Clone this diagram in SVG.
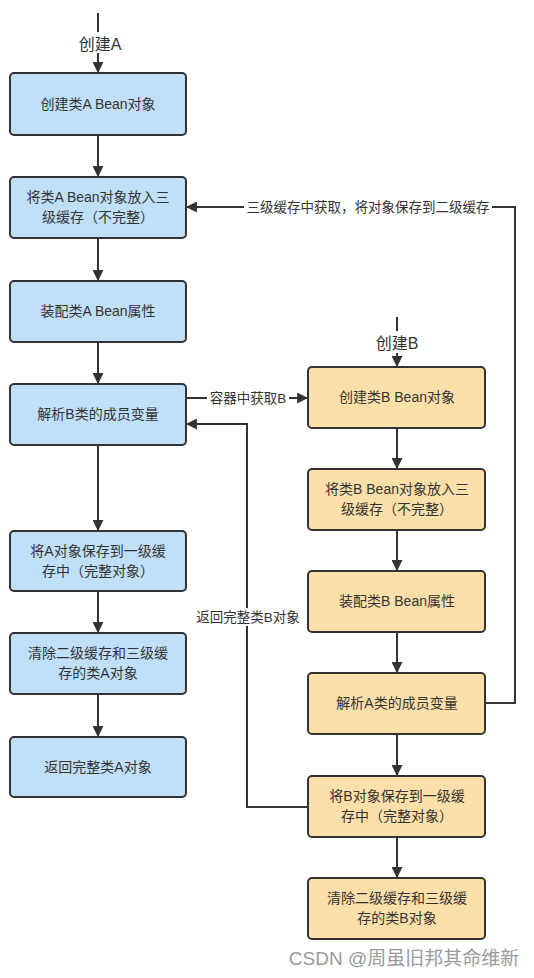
<svg xmlns="http://www.w3.org/2000/svg" width="534" height="978" viewBox="0 0 534 978">
<style>
.a{fill:#bfe0f8;stroke:#333;stroke-width:2}
.b{fill:#fddfa9;stroke:#333;stroke-width:2}
text{font-family:"Liberation Sans","Noto Sans CJK SC",sans-serif;font-size:14px;fill:#333;text-anchor:middle}
.t{font-size:13.5px}
.s{font-size:16px}
.c{fill:none;stroke:#333;stroke-width:2}
.l{fill:#fff}
</style>
<defs>
<marker id="m" viewBox="0 0 10 10" refX="9" refY="5" markerWidth="5.5" markerHeight="5.5" orient="auto" markerUnits="strokeWidth">
<path d="M0,0L10,5L0,10z" fill="#333"/>
</marker>
</defs>
<rect width="534" height="978" fill="#fff"/>
<g id="connectors">
<path class="c" d="M98,13V32"/>
<path class="c" d="M98,53V72" marker-end="url(#m)"/>
<path class="c" d="M98,136V176" marker-end="url(#m)"/>
<path class="c" d="M98,239V280" marker-end="url(#m)"/>
<path class="c" d="M98,343V383" marker-end="url(#m)"/>
<path class="c" d="M98,446V530" marker-end="url(#m)"/>
<path class="c" d="M98,592V632" marker-end="url(#m)"/>
<path class="c" d="M98,695V736" marker-end="url(#m)"/>
<path class="c" d="M397,317V331"/>
<path class="c" d="M397,353V366" marker-end="url(#m)"/>
<path class="c" d="M397,429V468" marker-end="url(#m)"/>
<path class="c" d="M397,531V570" marker-end="url(#m)"/>
<path class="c" d="M397,633V672" marker-end="url(#m)"/>
<path class="c" d="M397,735V775" marker-end="url(#m)"/>
<path class="c" d="M397,838V877" marker-end="url(#m)"/>
<path class="c" d="M486,703H515V207H187" marker-end="url(#m)"/>
<path class="c" d="M187,398H307" marker-end="url(#m)"/>
<path class="c" d="M307,807H247V424H187" marker-end="url(#m)"/>
<rect class="l" x="244" y="198" width="248" height="18"/>
<text class="t" x="368" y="212">三级缓存中获取，将对象保存到二级缓存</text>
<rect class="l" x="207" y="389" width="82" height="18"/>
<text class="t" x="248" y="403">容器中获取B</text>
<rect class="l" x="194" y="608" width="108" height="18"/>
<text class="t" x="248" y="622">返回完整类B对象</text>
<rect class="l" x="72" y="33" width="52" height="20"/>
<text class="s" x="100" y="50">创建A</text>
<rect class="l" x="371" y="332" width="52" height="20"/>
<text class="s" x="397" y="349">创建B</text>
</g>
<g id="a1"><rect class="a" x="10" y="73" width="176" height="62" rx="4"/><text x="98" y="109">创建类A Bean对象</text></g>
<g id="a2"><rect class="a" x="10" y="177" width="176" height="61" rx="4"/><text x="98" y="202">将类A Bean对象放入三</text><text x="98" y="222">级缓存（不完整）</text></g>
<g id="a3"><rect class="a" x="10" y="281" width="176" height="61" rx="4"/><text x="98" y="316">装配类A Bean属性</text></g>
<g id="a4"><rect class="a" x="10" y="384" width="176" height="61" rx="4"/><text x="98" y="419">解析B类的成员变量</text></g>
<g id="a5"><rect class="a" x="10" y="531" width="176" height="60" rx="4"/><text x="98" y="556">将A对象保存到一级缓</text><text x="98" y="576">存中（完整对象）</text></g>
<g id="a6"><rect class="a" x="10" y="633" width="176" height="61" rx="4"/><text x="98" y="658">清除二级缓存和三级缓</text><text x="98" y="678">存的类A对象</text></g>
<g id="a7"><rect class="a" x="10" y="737" width="176" height="60" rx="4"/><text x="98" y="772">返回完整类A对象</text></g>
<g id="b1"><rect class="b" x="308" y="367" width="177" height="61" rx="4"/><text x="397" y="402">创建类B Bean对象</text></g>
<g id="b2"><rect class="b" x="308" y="469" width="177" height="61" rx="4"/><text x="397" y="494">将类B Bean对象放入三</text><text x="397" y="514">级缓存（不完整）</text></g>
<g id="b3"><rect class="b" x="308" y="571" width="177" height="61" rx="4"/><text x="397" y="606">装配类B Bean属性</text></g>
<g id="b4"><rect class="b" x="308" y="673" width="177" height="61" rx="4"/><text x="397" y="708">解析A类的成员变量</text></g>
<g id="b5"><rect class="b" x="308" y="776" width="177" height="61" rx="4"/><text x="397" y="801">将B对象保存到一级缓</text><text x="397" y="821">存中（完整对象）</text></g>
<g id="b6"><rect class="b" x="308" y="878" width="177" height="61" rx="4"/><text x="397" y="903">清除二级缓存和三级缓</text><text x="397" y="923">存的类B对象</text></g>
<text x="404" y="965" style="font-size:19px;fill:#9a9a9a">CSDN @周虽旧邦其命维新</text>
</svg>
